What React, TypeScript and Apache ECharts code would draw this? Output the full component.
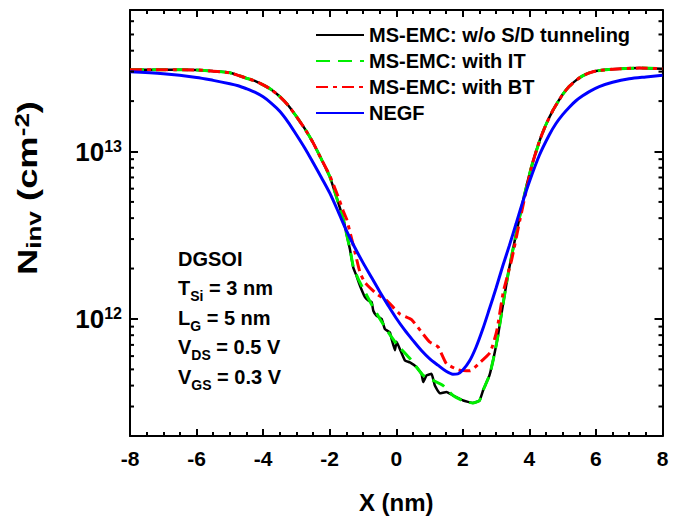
import React, { useEffect, useRef } from 'react';
import * as echarts from 'echarts';

const FONT = '"Liberation Sans", Arial, Helvetica, sans-serif';

const xMin = -8;
const xMax = 8;
const xInterval = 2;
const yMin = 2e11;
const yMax = 7e13;
const yMinorTicks = [
  3e11, 4e11, 5e11, 6e11, 7e11, 8e11, 9e11,
  2e12, 3e12, 4e12, 5e12, 6e12, 7e12, 8e12, 9e12,
  2e13, 3e13, 4e13, 5e13, 6e13,
];

const seriesNames = [
  'MS-EMC: w/o S/D tunneling',
  'MS-EMC: with IT',
  'MS-EMC: with BT',
  'NEGF',
];

// shared source / drain arms of the three MS-EMC curves
const emcSourceArm = [
  [-8, 3.08e13], [-7, 3.08e13], [-6, 3.07e13], [-5.5, 3.02e13], [-5.25, 2.99e13],
  [-5, 2.95e13], [-4.75, 2.85e13], [-4.5, 2.74e13], [-4.25, 2.64e13], [-4, 2.5e13],
  [-3.75, 2.34e13], [-3.5, 2.13e13], [-3.25, 1.89e13], [-3, 1.62e13],
  [-2.75, 1.37e13], [-2.5, 1.13e13], [-2.25, 9.0e12],
];
const emcDrainArm = [
  [4.07, 8.2e12], [4.32, 1.18e13], [4.5, 1.45e13], [4.72, 1.78e13], [5.0, 2.19e13],
  [5.2, 2.45e13], [5.4, 2.66e13], [5.6, 2.83e13], [5.8, 2.95e13], [6.0, 3.03e13],
  [6.5, 3.1e13], [7.3, 3.15e13], [8, 3.12e13],
];

const noTunnelingCore = [
  [-2, 7.1e12], [-1.75, 5.0e12], [-1.59, 3.94e12], [-1.49, 3.2e12], [-1.39, 2.6e12],
  [-1.29, 2.02e12], [-1.2, 1.82e12], [-1.09, 1.58e12], [-0.94, 1.35e12],
  [-0.84, 1.29e12], [-0.74, 1.26e12], [-0.69, 1.12e12], [-0.59, 1.045e12],
  [-0.44, 1.0e12], [-0.34, 8.7e11], [-0.19, 8.3e11], [-0.14, 7.6e11],
  [-0.04, 6.5e11], [0.01, 7.3e11], [0.11, 6.6e11], [0.26, 5.65e11],
  [0.41, 5.5e11], [0.61, 5.15e11], [0.76, 4.7e11], [0.81, 4.2e11],
  [0.91, 4.6e11], [1.06, 4.7e11], [1.16, 4.0e11], [1.31, 3.6e11],
  [1.51, 3.66e11], [1.71, 3.49e11], [2.01, 3.26e11], [2.3, 3.15e11],
  [2.5, 3.25e11], [2.62, 3.8e11], [2.8, 4.6e11], [2.92, 5.78e11],
  [3.05, 7.8e11], [3.17, 1.1e12], [3.37, 1.9e12], [3.57, 3.0e12],
  [3.82, 5.18e12],
];

const withITCore = [
  [-2, 7.1e12], [-1.75, 5.0e12], [-1.59, 3.94e12], [-1.49, 3.2e12], [-1.39, 2.6e12],
  [-1.29, 2.05e12], [-1.15, 1.75e12], [-0.99, 1.51e12], [-0.74, 1.22e12],
  [-0.49, 1.0e12], [-0.25, 8.4e11], [0.01, 7.1e11], [0.41, 5.8e11],
  [0.81, 4.6e11], [1.11, 4.3e11], [1.41, 4.0e11], [1.7, 3.5e11],
  [2.0, 3.25e11], [2.3, 3.15e11], [2.5, 3.25e11], [2.62, 3.8e11],
  [2.8, 4.6e11], [2.92, 5.78e11], [3.05, 7.8e11], [3.17, 1.1e12],
  [3.37, 1.9e12], [3.57, 3.0e12], [3.82, 5.18e12],
];

const withBTCore = [
  [-2, 7.2e12], [-1.75, 5.4e12], [-1.59, 4.4e12], [-1.49, 3.94e12], [-1.39, 3.3e12],
  [-1.24, 2.5e12], [-1.09, 1.9e12], [-0.94, 1.65e12], [-0.59, 1.41e12],
  [-0.29, 1.29e12], [0.11, 1.07e12], [0.46, 9.9e11], [0.81, 8.1e11],
  [1.0, 7.3e11], [1.26, 6.8e11], [1.51, 5.4e11], [1.87, 4.97e11],
  [2.22, 4.9e11], [2.52, 5.5e11], [2.82, 6.3e11], [3.02, 8.5e11],
  [3.22, 1.46e12], [3.47, 2.27e12], [3.72, 3.94e12],
];

const negf = [
  [-8, 2.99e13], [-7, 2.91e13], [-6, 2.77e13], [-5.5, 2.66e13], [-5, 2.54e13],
  [-4.75, 2.47e13], [-4.5, 2.37e13], [-4.25, 2.26e13], [-4, 2.12e13],
  [-3.75, 1.94e13], [-3.5, 1.74e13], [-3.25, 1.5e13], [-3, 1.26e13],
  [-2.75, 1.05e13], [-2.5, 8.6e12], [-2.25, 7.0e12], [-2, 5.66e12],
  [-1.75, 4.4e12], [-1.5, 3.38e12], [-1.25, 2.68e12], [-1.0, 2.17e12],
  [-0.75, 1.78e12], [-0.5, 1.46e12], [-0.25, 1.21e12], [0, 1.01e12],
  [0.25, 8.6e11], [0.5, 7.45e11], [0.75, 6.5e11], [1.0, 5.8e11],
  [1.25, 5.3e11], [1.5, 4.87e11], [1.7, 4.68e11], [1.85, 4.7e11],
  [2.0, 4.95e11], [2.2, 5.6e11], [2.4, 6.8e11], [2.6, 8.7e11],
  [2.8, 1.15e12], [3.0, 1.53e12], [3.2, 2.07e12], [3.4, 2.75e12],
  [3.6, 3.7e12], [3.8, 5.0e12], [4.0, 6.6e12], [4.3, 9.5e12],
  [4.6, 1.26e13], [4.8, 1.47e13], [5.0, 1.66e13], [5.2, 1.84e13],
  [5.4, 2.01e13], [5.6, 2.15e13], [5.8, 2.28e13], [6.1, 2.44e13],
  [6.5, 2.59e13], [7.0, 2.72e13], [7.5, 2.79e13], [8, 2.85e13],
];

const noTunneling = [...emcSourceArm, ...noTunnelingCore, ...emcDrainArm];
const withIT = [...emcSourceArm, ...withITCore, ...emcDrainArm];
const withBT = [...emcSourceArm, ...withBTCore, ...emcDrainArm];

const infoLines = [
  '{b|DGSOI}',
  '{b|T}{s|Si}{b| = 3 nm}',
  '{b|L}{s|G}{b| = 5 nm}',
  '{b|V}{s|DS}{b| = 0.5 V}',
  '{b|V}{s|GS}{b| = 0.3 V}',
];

const yTitle = '{b|N}{sub|inv}{b| (cm}{sup|-2}{b|)}';
const xTitle = 'X (nm)';

export default function App() {
  const ref = useRef<HTMLDivElement>(null);

  useEffect(() => {
    if (!ref.current) return;
    const chart = echarts.init(ref.current, undefined, { renderer: 'svg' });

    const frameLine = { show: true, onZero: false, lineStyle: { color: '#000', width: 2 } };
    const majorTick = { show: true, inside: true, length: 7, lineStyle: { color: '#000', width: 2 } };
    const minorTick = { show: true, splitNumber: 4, length: 4, lineStyle: { color: '#000', width: 2 } };

    const lineSeries = (name: string, data: number[][], color: string, type: any, width: number, smooth: number) => ({
      name,
      type: 'line',
      data,
      symbol: 'none',
      smooth,
      color,
      lineStyle: { color, width, type },
      z: 3,
    });

    chart.setOption({
      animation: false,
      grid: { left: 130, right: 25.5, top: 10, bottom: 81.5, containLabel: false },
      xAxis: [
        {
          type: 'value', min: xMin, max: xMax, interval: xInterval, position: 'bottom',
          axisLine: frameLine, axisTick: majorTick, minorTick,
          splitLine: { show: false }, minorSplitLine: { show: false },
          axisLabel: { color: '#000', fontSize: 21, fontWeight: 'bold', fontFamily: FONT, margin: 12 },
          name: xTitle, nameLocation: 'middle', nameGap: 54,
          nameTextStyle: { color: '#000', fontSize: 24, fontWeight: 'bold', fontFamily: FONT },
        },
        {
          type: 'value', min: xMin, max: xMax, interval: xInterval, position: 'top',
          axisLine: frameLine, axisTick: majorTick, minorTick,
          splitLine: { show: false }, minorSplitLine: { show: false },
          axisLabel: { show: false },
        },
      ],
      yAxis: [
        {
          type: 'log', logBase: 10, min: yMin, max: yMax, position: 'left',
          axisLine: frameLine, axisTick: { ...majorTick, length: 8 },
          splitLine: { show: false },
          axisLabel: {
            margin: 8,
            formatter: (v: number) => {
              const l = Math.log10(v);
              if (Math.abs(l - Math.round(l)) < 1e-6) return `{b|10}{sup|${Math.round(l)}}`;
              return '';
            },
            rich: {
              b: { fontSize: 26, fontWeight: 'bold', fontFamily: FONT, color: '#000', lineHeight: 26 },
              sup: { fontSize: 16, fontWeight: 'bold', fontFamily: FONT, color: '#000', lineHeight: 16, verticalAlign: 'top' },
            },
          },
        },
        {
          type: 'log', logBase: 10, min: yMin, max: yMax, position: 'right',
          axisLine: frameLine, axisTick: { ...majorTick, length: 8 },
          splitLine: { show: false },
          axisLabel: { show: false },
        },
      ],
      legend: {
        data: seriesNames,
        orient: 'vertical',
        left: 310,
        top: 20,
        itemWidth: 48,
        itemHeight: 14,
        itemGap: 6,
        itemStyle: { opacity: 0 },
        textStyle: { color: '#000', fontSize: 20, fontWeight: 'bold', fontFamily: FONT, lineHeight: 19 },
        selectedMode: false,
      },
      series: [
        lineSeries(seriesNames[0], noTunneling, '#000000', 'solid', 2.5, 0.12),
        lineSeries(seriesNames[1], withIT, '#00ee00', [14, 8], 3, 0.15),
        lineSeries(seriesNames[2], withBT, '#ff0000', [12, 5, 4, 5], 3, 0.15),
        lineSeries(seriesNames[3], negf, '#0000ff', 'solid', 3, 0.3),
        {
          type: 'custom',
          name: 'minorTicks',
          silent: true,
          clip: false,
          data: yMinorTicks.map((v) => [xMin, v]),
          encode: { x: 0, y: 1 },
          renderItem: (params: any, api: any) => {
            const v = api.value(1);
            const p = api.coord([xMin, v]);
            const q = api.coord([xMax, v]);
            const st = { stroke: '#000', lineWidth: 2 };
            return {
              type: 'group',
              children: [
                { type: 'line', shape: { x1: p[0], y1: p[1], x2: p[0] + 4, y2: p[1] }, style: st },
                { type: 'line', shape: { x1: q[0] - 4, y1: q[1], x2: q[0], y2: q[1] }, style: st },
              ],
            };
          },
          z: 4,
        },
      ],
      graphic: [
        {
          type: 'text',
          x: 28,
          y: 188,
          rotation: Math.PI / 2,
          scaleX: 1.3,
          style: {
            text: yTitle,
            align: 'center',
            verticalAlign: 'middle',
            rich: {
              b: { fontSize: 28, fontWeight: 'bold', fontFamily: FONT, fill: '#000', lineHeight: 32 },
              sub: { fontSize: 20, fontWeight: 'bold', fontFamily: FONT, fill: '#000', lineHeight: 20, verticalAlign: 'bottom' },
              sup: { fontSize: 20, fontWeight: 'bold', fontFamily: FONT, fill: '#000', lineHeight: 20, verticalAlign: 'top' },
            },
          },
        },
        {
          type: 'text',
          x: 178,
          y: 244,
          style: {
            text: infoLines.join('\n'),
            align: 'left',
            verticalAlign: 'top',
            rich: {
              b: { fontSize: 20, fontWeight: 'bold', fontFamily: FONT, fill: '#000', lineHeight: 29.5 },
              s: { fontSize: 14, fontWeight: 'bold', fontFamily: FONT, fill: '#000', lineHeight: 14, verticalAlign: 'bottom' },
            },
          },
        },
      ],
    });

    return () => chart.dispose();
  }, []);

  return <div ref={ref} style={{ position: 'absolute', left: 0, top: 0, width: 688, height: 519 }} />;
}
